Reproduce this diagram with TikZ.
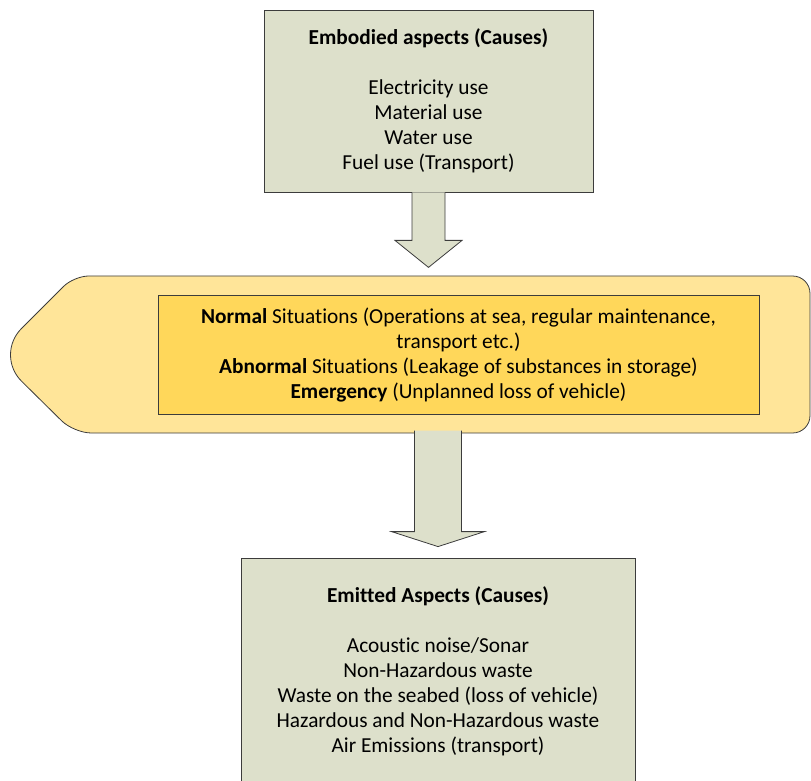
\documentclass[tikz,border=0pt]{standalone}
\usepackage{fontspec}
\setmainfont{Carlito}[Ligatures={NoCommon}]
\usetikzlibrary{calc}
\definecolor{aspectgreen}{RGB}{221,224,203}
\definecolor{bannergold}{RGB}{255,229,153}
\definecolor{situgold}{RGB}{255,215,90}
\definecolor{edgegray}{RGB}{60,60,60}
\begin{document}
\begin{tikzpicture}[x=0.75pt, y=-0.75pt,
	aspect/.style={draw=edgegray, fill=aspectgreen, line width=0.6pt, align=center, inner sep=0pt, font=\fontsize{16}{18.7}\selectfont},
	situbox/.style={draw=edgegray, fill=situgold, line width=0.6pt, align=center, inner sep=0pt, font=\fontsize{16}{18.7}\selectfont},
	banner/.style={draw=edgegray, fill=bannergold, line width=0.6pt},
	blockarrow/.style={draw=edgegray, fill=aspectgreen, line width=0.6pt}]
				\useasboundingbox (0,0) rectangle (811,781);
				\node[aspect, minimum width=246.75pt, minimum height=136.5pt] (embodied) at (428.5,101) {\textbf{Embodied aspects (Causes)}\\[18.7pt] Electricity use\\ Material use\\ Water use\\ Fuel use (Transport)};
				\coordinate (tipA) at ($(embodied.south)+(0,75)$);
				\filldraw[blockarrow] ($(embodied.south)+(-16.5,0)$) -- ++(0,48) -- ++(-17,0) -- (tipA) -- ($(tipA)+(33.5,-27)$) -- ++(-17,0) -- ++(0,-48);
				\draw[banner] (400,276) [rounded corners=13pt] -- (810,276) -- (810,433) -- (74,433) [rounded corners=28pt] -- (-5,355) [rounded corners=11pt] -- (74,276) -- cycle;
				\node[situbox, minimum width=450.75pt, minimum height=89.25pt] (situ) at (458.5,355) {\textbf{Normal} Situations (Operations at sea, regular maintenance,\\ transport etc.)\\ \textbf{Abnormal} Situations (Leakage of substances in storage)\\ \textbf{Emergency} (Unplanned loss of vehicle)};
				\node[aspect, minimum width=295.5pt, minimum height=169.5pt] (emitted) at (438,671) {\textbf{Emitted Aspects (Causes)}\\[18.7pt] Acoustic noise/Sonar\\ Non-Hazardous waste\\ Waste on the seabed (loss of vehicle)\\ Hazardous and Non-Hazardous waste\\ Air Emissions (transport)};
				\coordinate (tipB) at ($(emitted.north)+(0,-11)$);
				\filldraw[blockarrow] ($(tipB)+(-23.5,-116)$) -- ++(0,101) -- ++(-23,0) -- (tipB) -- ($(tipB)+(46.5,-15)$) -- ++(-23,0) -- ++(0,-101);
\end{tikzpicture}
\end{document}
